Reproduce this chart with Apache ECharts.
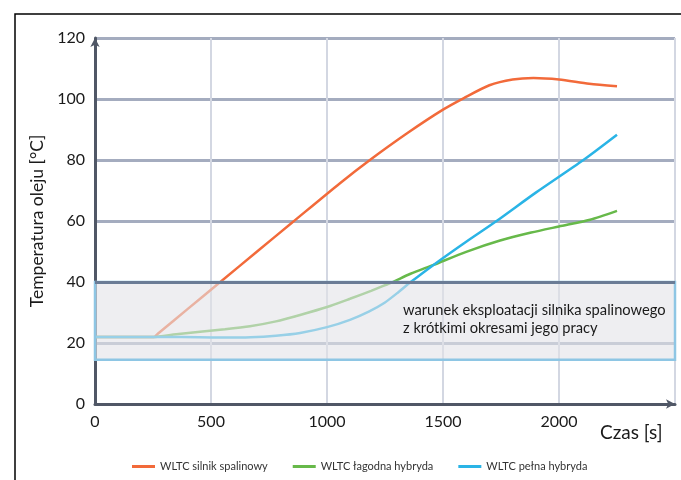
<!DOCTYPE html>
<html>
<head>
<meta charset="utf-8">
<script src="https://cdn.jsdelivr.net/npm/echarts@6/dist/echarts.min.js"></script>
<style>html,body{margin:0;padding:0;background:#fff;}#c{width:681px;height:480px;}</style>
</head>
<body>
<div id="c"></div>
<script>
const seriesNames = ['WLTC silnik spalinowy', 'WLTC łagodna hybryda', 'WLTC pełna hybryda'];
const xTicks = [0, 500, 1000, 1500, 2000, 2500];
const yTicks = [0, 20, 40, 60, 80, 100, 120];

const orangeT = [0, 240, 255, 272, 400, 540, 700, 850, 1056, 1185, 1350, 1500, 1590, 1700, 1800, 1890, 2000, 2130, 2250];
const orangeV = [22, 22, 22, 23.1, 31.2, 40, 50.1, 59.5, 72.4, 80, 89, 96.5, 100.3, 104.5, 106.4, 106.9, 106.4, 105.0, 104.2];

const greenT = [0, 250, 350, 453, 560, 668, 780, 884, 1000, 1099, 1190, 1272, 1360, 1459, 1600, 1746, 1880, 2000, 2134, 2250];
const greenV = [22, 22, 22.9, 23.7, 24.5, 25.5, 27.1, 29.2, 31.8, 34.5, 37.1, 39.6, 42.7, 45.6, 49.9, 53.6, 56.2, 58.2, 60.4, 63.3];

const blueT = [0, 300, 450, 560, 670, 780, 884, 1000, 1099, 1180, 1250, 1310, 1358, 1459, 1600, 1731, 1900, 2105, 2250];
const blueV = [22, 22, 21.9, 21.8, 21.9, 22.4, 23.3, 25.2, 27.6, 30.3, 33.3, 36.8, 39.8, 45.6, 53.2, 60, 69.3, 80, 88.3];

const boxBottom = 14.5, boxTop = 40;
const boxText = 'warunek eksploatacji silnika spalinowego\nz krótkimi okresami jego pracy';

const colors = ['#f26a3a', '#67b94a', '#2ab4e6'];
const zip = (t, v) => t.map((x, i) => [x, v[i]]);

const chart = echarts.init(document.getElementById('c'), null, {renderer: 'canvas'});
const FONT = 'Lato';
chart.setOption({
  animation: false,
  textStyle: {fontFamily: FONT},
  grid: {left: 95, right: 6, top: 38, bottom: 76, containLabel: false},
  xAxis: {
    type: 'value', min: 0, max: 2500, interval: 500,
    axisLine: {show: true, symbol: ['none', 'arrow'], symbolSize: [7, 9], lineStyle: {color: '#505766', width: 3}},
    axisTick: {show: false},
    axisLabel: {fontSize: 16, color: '#1a1a1a', margin: 10, fontFamily: FONT,
      formatter: v => (v === 2500 ? '' : String(v))},
    splitLine: {show: true, lineStyle: {color: '#d3d7e2', width: 2}}
  },
  yAxis: {
    type: 'value', min: 0, max: 120, interval: 20,
    name: 'Temperatura oleju [°C]', nameLocation: 'middle', nameRotate: 90, nameGap: 41,
    nameTextStyle: {fontSize: 17.5, color: '#1a1a1a', fontFamily: FONT},
    axisLine: {show: true, symbol: ['none', 'arrow'], symbolSize: [7, 9], lineStyle: {color: '#505766', width: 3}},
    axisTick: {show: false},
    axisLabel: {fontSize: 16, color: '#1a1a1a', margin: 10, fontFamily: FONT},
    splitLine: {show: true, lineStyle: {color: '#a4acbf', width: 3}}
  },
  legend: {
    left: 127, top: 456, itemGap: 25, itemWidth: 23, itemHeight: 3, icon: 'rect',
    textStyle: {fontSize: 11, color: '#333', fontFamily: FONT},
    data: seriesNames
  },
  series: [
    {name: seriesNames[0], type: 'line', data: zip(orangeT, orangeV), showSymbol: false, smooth: 0.25, z: 2,
      lineStyle: {color: colors[0], width: 2.5}, itemStyle: {color: colors[0]}},
    {name: seriesNames[1], type: 'line', data: zip(greenT, greenV), showSymbol: false, smooth: 0.25, z: 2,
      lineStyle: {color: colors[1], width: 2.5}, itemStyle: {color: colors[1]}},
    {name: seriesNames[2], type: 'line', data: zip(blueT, blueV), showSymbol: false, smooth: 0.25, z: 2,
      lineStyle: {color: colors[2], width: 2.5}, itemStyle: {color: colors[2]}},
    {name: 'box', type: 'line', data: [], z: 5, silent: true,
      markArea: {silent: true, z: 10,
        itemStyle: {color: 'rgba(226,226,232,0.6)', borderColor: '#8ec6e4', borderWidth: 2.5},
        data: [[{xAxis: 0, yAxis: boxBottom}, {xAxis: 2500, yAxis: boxTop}]]},
      markLine: {silent: true, z: 11, symbol: 'none', label: {show: false},
        lineStyle: {color: '#6a7c96', width: 3, type: 'solid'},
        data: [{yAxis: boxTop}]}
    }
  ],
  graphic: [
    {type: 'polyline', silent: true, shape: {points: [[15, 480], [15, 14], [681, 14]]},
      style: {stroke: '#000', lineWidth: 1.5, fill: null}},
    {type: 'text', left: 403, top: 302, z: 20, silent: true,
      style: {text: boxText, font: '14.7px Lato', fill: '#1a1a1a', lineHeight: 17.5}},
    {type: 'text', left: 600, top: 423, silent: true,
      style: {text: 'Czas [s]', font: '19px Lato', fill: '#1a1a1a'}}
  ]
});
</script>
</body>
</html>
